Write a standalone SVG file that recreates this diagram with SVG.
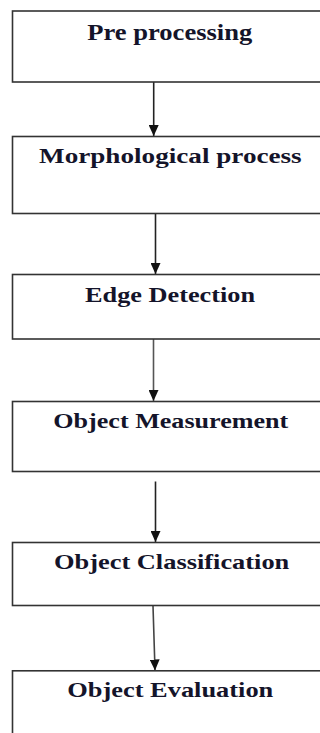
<svg xmlns="http://www.w3.org/2000/svg" width="320" height="733" viewBox="0 0 320 733">
<style>
.box{fill:#fff;stroke:#333;stroke-width:1.6}
.lbl{font-family:"Liberation Serif","Times New Roman",serif;font-weight:bold;fill:#14142a}
.conn{stroke:#222;stroke-width:1.6;fill:none;marker-end:url(#ah)}
</style>
<defs>
<marker id="ah" markerUnits="userSpaceOnUse" viewBox="0 0 11 10" refX="11" refY="5" markerWidth="11" markerHeight="10" orient="auto">
<path d="M0,0 L11,5 L0,10 Z" fill="#111"/>
</marker>
</defs>
<rect width="320" height="733" fill="#fff"/>
<g id="connectors">
<line class="conn" x1="153.7" y1="82" x2="153.7" y2="136"/>
<line class="conn" x1="155.5" y1="213.5" x2="155.5" y2="274"/>
<line class="conn" x1="153.5" y1="339" x2="153.5" y2="401" style="stroke:#555"/>
<line class="conn" x1="155.5" y1="481.5" x2="155.5" y2="542"/>
<line class="conn" x1="153" y1="605.5" x2="155" y2="670.5" style="stroke:#444"/>
</g>
<g id="n1">
<rect class="box" x="12.5" y="11" width="330" height="71"/>
<text class="lbl" x="87.3" y="40" font-size="24" textLength="165" lengthAdjust="spacingAndGlyphs">Pre processing</text>
</g>
<g id="n2">
<rect class="box" x="12.5" y="136.5" width="330" height="77"/>
<text class="lbl" x="39" y="163.3" font-size="20" textLength="262.7" lengthAdjust="spacingAndGlyphs">Morphological process</text>
</g>
<g id="n3">
<rect class="box" x="12.5" y="274.5" width="330" height="64.5"/>
<text class="lbl" x="85" y="302" font-size="22" textLength="170" lengthAdjust="spacingAndGlyphs">Edge Detection</text>
</g>
<g id="n4">
<rect class="box" x="12.5" y="401.5" width="330" height="70"/>
<text class="lbl" x="53.3" y="428.3" font-size="21" textLength="235" lengthAdjust="spacingAndGlyphs">Object Measurement</text>
</g>
<g id="n5">
<rect class="box" x="12.5" y="542.5" width="330" height="63"/>
<text class="lbl" x="54" y="569" font-size="21" textLength="235.3" lengthAdjust="spacingAndGlyphs">Object Classification</text>
</g>
<g id="n6">
<rect class="box" x="12.5" y="670.8" width="330" height="80"/>
<text class="lbl" x="67.3" y="697" font-size="21" textLength="206" lengthAdjust="spacingAndGlyphs">Object Evaluation</text>
</g>
</svg>
